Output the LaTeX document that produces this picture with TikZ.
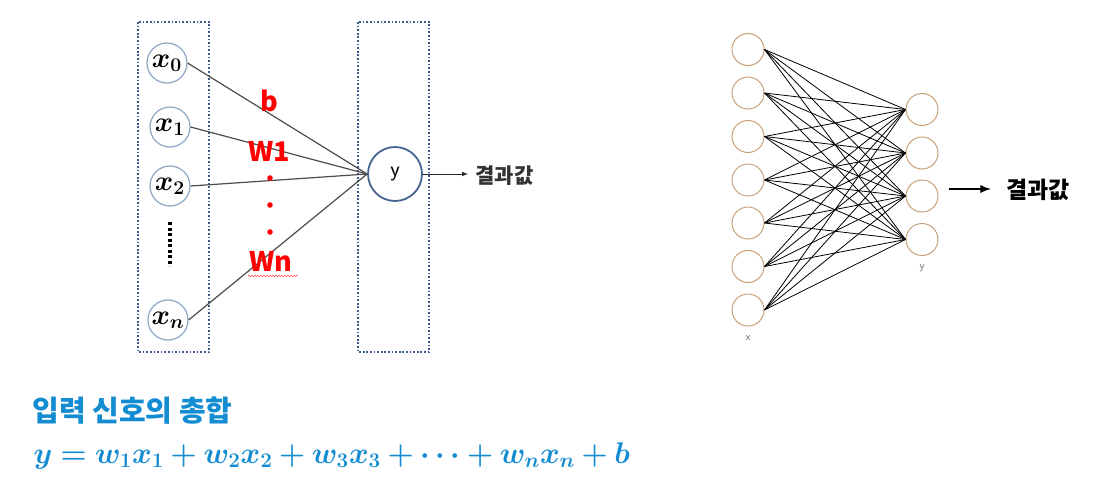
\documentclass[tikz,border=0pt]{standalone}
\usepackage{fontspec}
\usepackage{bm}
\newfontfamily\cjk{Noto Sans CJK KR}
\usetikzlibrary{decorations.pathmorphing}
\definecolor{nnframe}{RGB}{60,90,140}
\definecolor{nnring}{RGB}{140,165,195}
\definecolor{nnyring}{RGB}{70,100,145}
\definecolor{nnbrown}{RGB}{200,160,120}
\definecolor{nnblue}{RGB}{20,140,210}
\newcommand{\nnvar}[1]{\scalebox{1.35}{\fontsize{20}{20}\selectfont$\bm{#1}$}}
\begin{document}
\begin{tikzpicture}[
  x=1pt, y=-1pt,
  nnbox/.style = {draw=nnframe, line width=1.7pt, dash pattern=on 1.7pt off 1.9pt},
  nnin/.style = {circle, draw=nnring, line width=1.2pt, minimum size=40pt, inner sep=0pt},
  nnout/.style = {circle, draw=nnyring, line width=1.8pt, minimum size=54pt, inner sep=0pt},
  nnwire/.style = {draw=black!70, line width=1.2pt},
  nnwt/.style = {text=red, font=\cjk\bfseries\fontsize{27}{27}\selectfont},
  nnsmall/.style = {circle, draw=nnbrown, line width=1pt, minimum size=32pt, inner sep=0pt},
  nnedge/.style = {draw=black, line width=0.8pt},
  nnres/.style = {font=\cjk\bfseries\fontsize{21}{21}\selectfont}
]
  \useasboundingbox (0,0) rectangle (1105,491);
  % left: single neuron
  \draw[nnbox] (138,22) rectangle (209,352);
  \draw[nnbox] (358,22) rectangle (429,352);
  \node[nnin] (x0) at (167,63) {\nnvar{x_0}};
  \node[nnin] (x1) at (170,127) {\nnvar{x_1}};
  \node[nnin] (x2) at (170,186) {\nnvar{x_2}};
  \node[nnin] (xn) at (168,320) {\nnvar{x_n}};
  \draw[line width=3.2pt, dash pattern=on 3.2pt off 2.3pt] (170,222) -- (170,266);
  \node[nnout] (y) at (395,174) {\sffamily\fontsize{22}{22}\selectfont y};
  \foreach \i in {x0,x1,x2,xn} {
    \draw[nnwire] (\i.east) -- (y.west);
  }
  \node[nnwt] (b) at (269,101) {b};
  \node[nnwt] (w1) at (269,151) {W1};
  \foreach \yy in {178,205,232} {
    \fill[red] (270,\yy) circle (2.8pt);
  }
  \node[nnwt] (wn) at (271,261) {Wn};
  \draw[red!70, line width=0.5pt, decorate,
    decoration={snake, amplitude=0.9pt, segment length=3pt}]
    (248,276) -- (298,276);
  \coordinate (yout) at (468,174);
  \draw[line width=1pt, black!85, -latex] (y.east) -- (yout);
  \node[nnres, text=black!80, anchor=west] (res1) at (472,176) {결과값};
  % right: full layer
  \foreach \k/\yy in {1/49.5,2/93,3/136.5,4/180,5/223,6/266.5,7/310} {
    \node[nnsmall] (in\k) at (748,\yy) {};
  }
  \foreach \k/\yy in {1/109.5,2/153,3/196,4/239.5} {
    \node[nnsmall] (out\k) at (922,\yy) {};
  }
  \foreach \a in {1,...,7} {
    \foreach \b in {1,...,4} {
      \draw[nnedge] (in\a.east) -- (out\b.west);
    }
  }
  \node[text=black!60, font=\sffamily\fontsize{11}{11}\selectfont] (xl) at (748,338) {x};
  \node[text=black!60, font=\sffamily\fontsize{11}{11}\selectfont] (yl) at (922,268) {y};
  \coordinate (ra) at (949,189);
  \coordinate (rb) at (991,189);
  \draw[line width=2.6pt, -latex] (ra) -- (rb);
  \node[nnres, font=\cjk\bfseries\fontsize{23}{23}\selectfont, anchor=west] (res2) at (1003,190) {결과값};
  % bottom: sum of inputs
  \node[anchor=west, text=nnblue, font=\cjk\bfseries\fontsize{29}{29}\selectfont] (title) at (29,411) {입력 신호의 총합};
  \node[anchor=base west, text=nnblue, scale=1.2, transform shape,
    font=\fontsize{25}{25}\selectfont, inner xsep=2pt] (eq) at (31,463)
    {$\bm{y = w_1x_1 + w_2x_2 + w_3x_3 + \cdots + w_nx_n + b}$};
\end{tikzpicture}
\end{document}
